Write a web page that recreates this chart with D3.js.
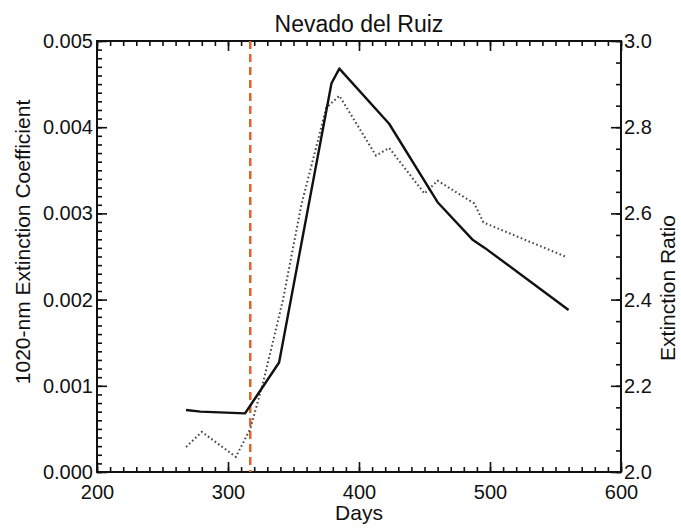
<!DOCTYPE html>
<html>
<head>
<meta charset="utf-8">
<script src="https://cdn.jsdelivr.net/npm/d3@7"></script>
<style>
  body { margin: 0; background: #fff; }
  text { font-family: "Liberation Sans", Arial, sans-serif; fill: #111; }
</style>
</head>
<body>
<div id="chart"></div>
<script>

const title = "Nevado del Ruiz";

// solid line: 1020-nm extinction coefficient (left axis)
const extDays = [268, 279, 313, 339, 379, 385, 423, 460, 487, 496, 560];
const extValues = [0.00072, 0.00070, 0.00068, 0.00127, 0.00451, 0.00468, 0.00404, 0.00313, 0.00269, 0.00260, 0.00188];

// dotted line: extinction ratio (right axis)
const ratioDays = [268, 280, 306, 317, 327, 342, 356, 367, 375, 385, 413, 423, 450, 460, 488, 495, 559];
const ratioValues = [2.058, 2.093, 2.035, 2.10, 2.21, 2.40, 2.62, 2.75, 2.845, 2.873, 2.734, 2.752, 2.646, 2.676, 2.623, 2.579, 2.498];

const eruptionDay = 317;

const xTicks = [200, 300, 400, 500, 600];
const yLeftTicks = [0, 0.001, 0.002, 0.003, 0.004, 0.005];
const yRightTicks = [2.0, 2.2, 2.4, 2.6, 2.8, 3.0];

const W = 681, H = 529;
const M = {left: 97, right: 60, top: 41, bottom: 57};

const svg = d3.select('#chart').append('svg')
  .attr('width', W)
  .attr('height', H);

const x = d3.scaleLinear().domain([200, 600]).range([M.left, W - M.right]);
const yL = d3.scaleLinear().domain([0, 0.005]).range([H - M.bottom, M.top]);
const yR = d3.scaleLinear().domain([2.0, 3.0]).range([H - M.bottom, M.top]);

const FS = 20;

function axisLayer(axis, transform) {
  const g = svg.append('g').attr('transform', transform).call(axis);
  g.select('.domain').remove();
  g.selectAll('line').attr('stroke', '#111').attr('stroke-width', 1.6);
  g.selectAll('text').style('font-size', FS + 'px').attr('fill', '#111');
  return g;
}

// minor ticks (inward)
const bottomY = H - M.bottom, topY = M.top;
axisLayer(d3.axisBottom(x).tickValues(d3.range(200, 601, 10)).tickSize(-5).tickFormat(''), `translate(0,${bottomY})`);
axisLayer(d3.axisTop(x).tickValues(d3.range(200, 601, 10)).tickSize(-5).tickFormat(''), `translate(0,${topY})`);
axisLayer(d3.axisLeft(yL).tickValues(d3.range(0, 51).map(d => d / 10000)).tickSize(-5).tickFormat(''), `translate(${M.left},0)`);
axisLayer(d3.axisRight(yR).tickValues(d3.range(0, 21).map(d => 2 + d * 0.05)).tickSize(-5).tickFormat(''), `translate(${W - M.right},0)`);

// major ticks with labels
axisLayer(d3.axisBottom(x).tickValues(xTicks).tickSize(-10).tickPadding(10).tickFormat(d3.format('d')), `translate(0,${bottomY})`)
  .selectAll('text').attr('dy', '0.85em');
axisLayer(d3.axisTop(x).tickValues(xTicks).tickSize(-10).tickFormat(''), `translate(0,${topY})`);
axisLayer(d3.axisLeft(yL).tickValues(yLeftTicks).tickSize(-10).tickPadding(4).tickFormat(d3.format('.3f')), `translate(${M.left},0)`);
axisLayer(d3.axisRight(yR).tickValues(yRightTicks).tickSize(-10).tickPadding(3).tickFormat(d3.format('.1f')), `translate(${W - M.right},0)`);

// frame
svg.append('rect')
  .attr('x', M.left).attr('y', M.top)
  .attr('width', W - M.left - M.right)
  .attr('height', H - M.top - M.bottom)
  .attr('fill', 'none')
  .attr('stroke', '#111')
  .attr('stroke-width', 2);

// eruption marker
svg.append('line')
  .attr('x1', x(eruptionDay)).attr('x2', x(eruptionDay))
  .attr('y1', M.top).attr('y2', H - M.bottom)
  .attr('stroke', '#e2632b')
  .attr('stroke-width', 2.5)
  .attr('stroke-dasharray', '8,5');

// dotted ratio line
const ratioLine = d3.line().x(d => x(d[0])).y(d => yR(d[1]));
svg.append('path')
  .datum(d3.zip(ratioDays, ratioValues))
  .attr('d', ratioLine)
  .attr('fill', 'none')
  .attr('stroke', '#444')
  .attr('stroke-width', 2)
  .attr('stroke-dasharray', '1.6,2.6');

// solid extinction line
const extLine = d3.line().x(d => x(d[0])).y(d => yL(d[1]));
svg.append('path')
  .datum(d3.zip(extDays, extValues))
  .attr('d', extLine)
  .attr('fill', 'none')
  .attr('stroke', '#111')
  .attr('stroke-width', 2.4)
  .attr('stroke-linejoin', 'round');

// titles
svg.append('text')
  .attr('x', (M.left + W - M.right) / 2).attr('y', 32)
  .attr('text-anchor', 'middle')
  .style('font-size', '23px')
  .text(title);

svg.append('text')
  .attr('x', (M.left + W - M.right) / 2).attr('y', 520)
  .attr('text-anchor', 'middle')
  .style('font-size', '21px')
  .text('Days');

svg.append('text')
  .attr('transform', 'translate(30,242) rotate(-90)')
  .attr('text-anchor', 'middle')
  .style('font-size', '21px')
  .text('1020-nm Extinction Coefficient');

svg.append('text')
  .attr('transform', 'translate(675,288) rotate(-90)')
  .attr('text-anchor', 'middle')
  .style('font-size', '21px')
  .text('Extinction Ratio');

</script>
</body>
</html>
